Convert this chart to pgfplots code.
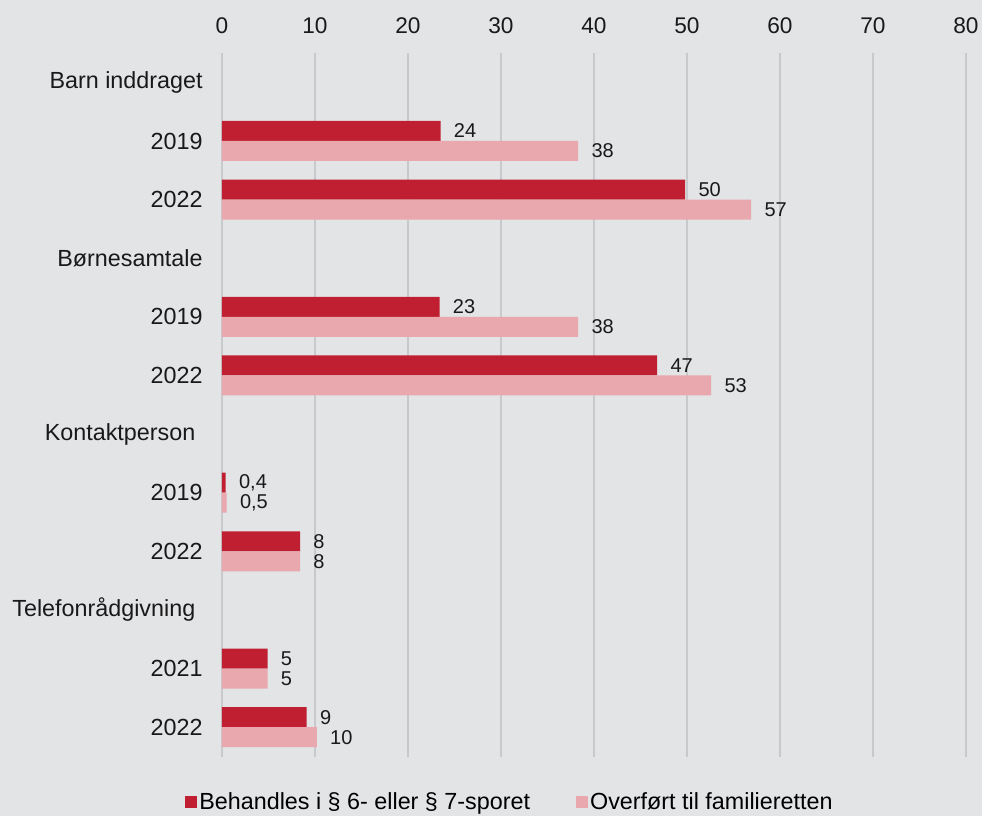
\documentclass[border=0pt]{standalone}
\usepackage{pgfplots}
\pgfplotsset{compat=1.18}
\usepackage{fontspec}
\setmainfont{Liberation Sans}
\definecolor{bg}{HTML}{E3E4E6}
\definecolor{gridc}{HTML}{C8C9CC}
\definecolor{dred}{HTML}{C01F32}
\definecolor{lpink}{HTML}{E8A8AD}
\pgfplotsset{sqleg/.style={legend image code/.code={\fill[##1] (0pt,-4.5pt) rectangle (9pt,4.5pt);}}}
\begin{document}
\begin{tikzpicture}
\fill[bg] (0,0) rectangle (736.5pt,612pt);
\useasboundingbox (0,0) rectangle (736.5pt,612pt);
\begin{axis}[
 at={(166.5pt,44.6pt)}, anchor=south west,
 scale only axis, width=558pt, height=527.6pt,
 xmin=0, xmax=80, ymin=-0.5, ymax=11.5, y dir=reverse,
 xtick={0,10,...,80}, xticklabel pos=top,
 ytick={0,...,11},
 yticklabels={Barn inddraget, 2019, 2022, Børnesamtale, 2019, 2022, Kontaktperson\rule{5.5pt}{0pt}, 2019, 2022, Telefonrådgivning\rule{5.5pt}{0pt}, 2021, 2022},
 axis line style={draw=none}, major tick style={draw=none},
 xmajorgrids, grid style={gridc, line width=1.3pt},
 ticklabel style={font=\fontsize{17}{20}\selectfont, text=black!90},
 yticklabel style={font=\fontsize{17.5}{20}\selectfont, xshift=-11pt},
 xticklabel style={yshift=11pt},
 /pgf/number format/assume math mode=true,
 nodes near coords style={font=\fontsize{15}{17}\selectfont, anchor=west, xshift=6.5pt, text=black!90},
 legend columns=2,
 legend style={font=\fontsize{17.5}{20}\selectfont, draw=none, fill=none, at={(-0.055,-0.065)}, anchor=west,
   /tikz/every even column/.append style={column sep=33pt}, nodes={inner sep=1.5pt}},
 legend cell align=left,
]
\addplot[xbar, bar width=15pt, bar shift=7.5pt, fill=dred, draw=none,
  nodes near coords, every node near coord/.append style={yshift=7.5pt}, point meta=explicit symbolic, sqleg]
 coordinates {(23.5,1)[24] (49.8,2)[50] (23.4,4)[23] (46.8,5)[47] (0.4,7)[0,4] (8.4,8)[8] (4.9,10)[5] (9.1,11)[9]};
\addplot[xbar, bar width=15pt, bar shift=-7.5pt, fill=lpink, draw=none,
  nodes near coords, every node near coord/.append style={yshift=-7.5pt}, point meta=explicit symbolic, sqleg]
 coordinates {(38.3,1)[38] (56.9,2)[57] (38.3,4)[38] (52.6,5)[53] (0.5,7)[0,5] (8.4,8)[8] (4.9,10)[5] (10.2,11)[10]};
\legend{Behandles i § 6- eller § 7-sporet, Overført til familieretten}
\end{axis}
\end{tikzpicture}
\end{document}
